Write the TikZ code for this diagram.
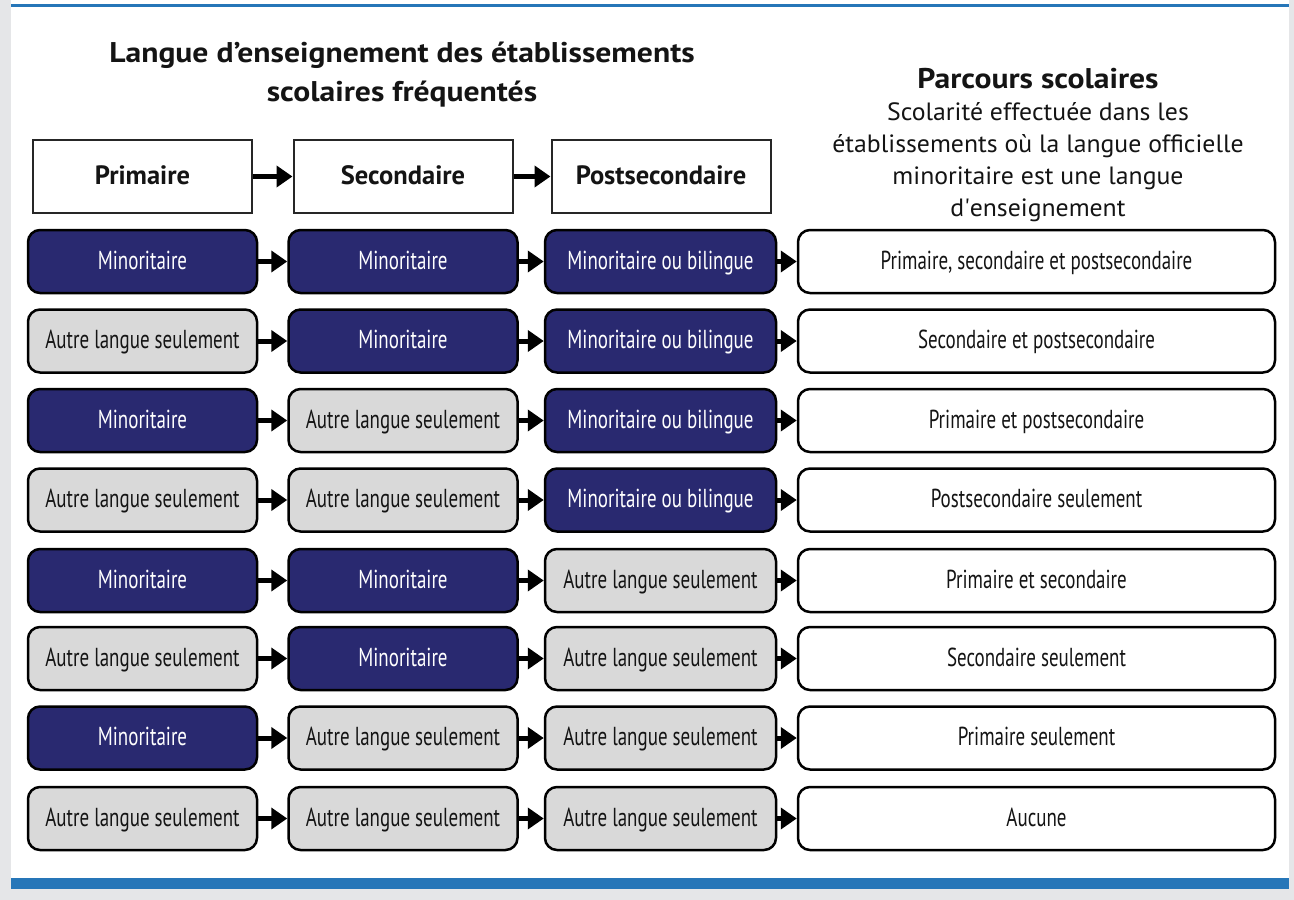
\documentclass[tikz,border=0pt]{standalone}
\usepackage{fontspec}
\setmainfont{PT Sans}
\newfontfamily\condfont[FakeStretch=0.73]{PT Sans}
\newfontfamily\widefont[FakeStretch=1.11]{PT Sans}
\newfontfamily\plainfont[FakeStretch=1.03,Ligatures=TeXOff]{PT Sans}
\newcommand{\straightquote}{\XeTeXglyph\XeTeXglyphindex "quotesingle" }
\usetikzlibrary{arrows.meta}
\definecolor{navy}{RGB}{41,41,112}
\definecolor{lgrey}{RGB}{217,217,217}
\definecolor{bgrey}{RGB}{229,230,232}
\definecolor{bblue}{RGB}{38,118,184}
\definecolor{txt}{RGB}{20,20,20}
\tikzset{
  hdrbox/.style={draw=black!85, line width=2pt, fill=white, minimum width=219pt, minimum height=73pt, inner sep=0pt, text height=19pt, text depth=3.4pt, text=txt, font=\fontsize{26.5}{30}\selectfont\bfseries},
  rowbox/.style={draw=black, line width=2.5pt, rounded corners=12pt, minimum width=229pt, minimum height=63pt, inner sep=0pt, text height=18pt, text depth=2.5pt, font=\condfont\fontsize{26}{30}\selectfont},
  minobox/.style={rowbox, fill=navy, text=white},
  autrebox/.style={rowbox, fill=lgrey, text=txt},
  resbox/.style={rowbox, fill=white, text=txt, minimum width=477pt},
  arr/.style={line width=5pt, draw=black, -{Triangle[length=16pt,width=21pt]}},
  titletext/.style={align=center, text=txt, inner sep=0pt}
}
\begin{document}
\begin{tikzpicture}[x=1pt,y=-1pt]
\useasboundingbox (0,0) rectangle (1294,900);
% background
\fill[bgrey] (0,0) rectangle (1294,900);
\fill[white] (11,0) rectangle (1289,878);
\fill[bblue] (11,3.5) rectangle (1289,6.8);
\fill[bblue] (11,878) rectangle (1289,889);
% titles
\node[titletext, font=\widefont\fontsize{28.5}{39}\selectfont\bfseries] (t1) at (402,75) {Langue d’enseignement des établissements\\scolaires fréquentés};
\node[titletext, font=\widefont\fontsize{28.5}{32}\selectfont\bfseries] (t2) at (1038,79) {Parcours scolaires};
\node[titletext, font=\plainfont\fontsize{25}{32}\selectfont] (t3) at (1038,162) {Scolarité effectuée dans les\\établissements où la langue officielle\\minoritaire est une langue\\d\straightquote enseignement};
% header boxes
\node[hdrbox] (h1) at (142.5,176.5) {Primaire};
\node[hdrbox] (h2) at (403,176.5) {Secondaire};
\node[hdrbox] (h3) at (661,176.5) {Postsecondaire};
\draw[arr] (h1.east) -- (h2.west);
\draw[arr] (h2.east) -- (h3.west);
% rows
\foreach \i/\y/\a/\ta/\b/\tb/\c/\tc/\r in {
  1/261.5/minobox/Minoritaire/minobox/Minoritaire/minobox/Minoritaire ou bilingue/{Primaire, secondaire et postsecondaire},
  2/341/autrebox/Autre langue seulement/minobox/Minoritaire/minobox/Minoritaire ou bilingue/Secondaire et postsecondaire,
  3/420.5/minobox/Minoritaire/autrebox/Autre langue seulement/minobox/Minoritaire ou bilingue/Primaire et postsecondaire,
  4/500/autrebox/Autre langue seulement/autrebox/Autre langue seulement/minobox/Minoritaire ou bilingue/Postsecondaire seulement,
  5/580.5/minobox/Minoritaire/minobox/Minoritaire/autrebox/Autre langue seulement/Primaire et secondaire,
  6/658.5/autrebox/Autre langue seulement/minobox/Minoritaire/autrebox/Autre langue seulement/Secondaire seulement,
  7/738/minobox/Minoritaire/autrebox/Autre langue seulement/autrebox/Autre langue seulement/Primaire seulement,
  8/818.5/autrebox/Autre langue seulement/autrebox/Autre langue seulement/autrebox/Autre langue seulement/Aucune}{
  \node[\a] (r\i c1) at (142.5,\y) {\ta};
  \node[\b] (r\i c2) at (403,\y) {\tb};
  \node[\c, minimum width=231pt] (r\i c3) at (660.5,\y) {\tc};
  \node[resbox] (r\i c4) at (1036.5,\y) {\r};
  \draw[arr] (r\i c1.east) -- (r\i c2.west);
  \draw[arr] (r\i c2.east) -- (r\i c3.west);
  \draw[arr] (r\i c3.east) -- (r\i c4.west);
}
\end{tikzpicture}
\end{document}
